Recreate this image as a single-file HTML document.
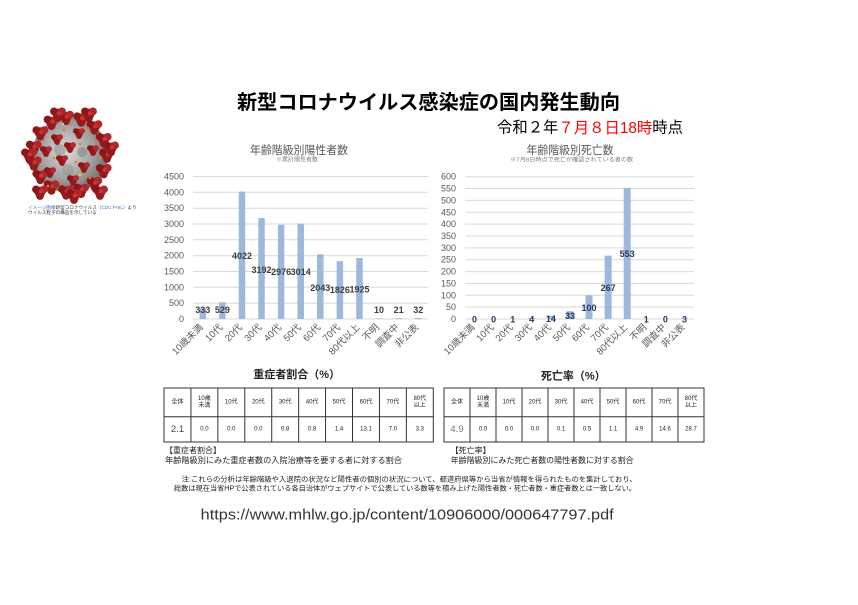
<!DOCTYPE html>
<html><head><meta charset="utf-8"><style>
html,body{margin:0;padding:0;background:#fff;}
body{width:858px;height:605px;overflow:hidden;}
svg{display:block;}
text{font-family:"Liberation Sans","Noto Sans CJK JP",sans-serif;}
</style></head><body>
<svg width="858" height="605" viewBox="0 0 858 605" xmlns="http://www.w3.org/2000/svg">
<defs>
<radialGradient id="vg" cx="0.45" cy="0.45" r="0.6">
<stop offset="0" stop-color="#dcdcdc"/><stop offset="0.6" stop-color="#a0a0a0"/><stop offset="1" stop-color="#666"/>
</radialGradient>
<g id="sp"><circle cx="0" cy="0" r="5.4" fill="#a11c20"/><circle cx="-4" cy="-2.6" r="3.9" fill="#8f1519"/><circle cx="4" cy="-2.6" r="3.9" fill="#b0272a"/><circle cx="0" cy="4" r="3.9" fill="#951a1e"/><circle cx="0.8" cy="-0.6" r="2" fill="#c73a33"/></g>
<g id="sp2"><circle cx="0" cy="0" r="4.2" fill="#a11c20"/><circle cx="-3.1" cy="-2" r="2.9" fill="#8f1519"/><circle cx="3.1" cy="-2" r="2.9" fill="#b32a2b"/><circle cx="0" cy="3.1" r="2.9" fill="#951a1e"/></g>
</defs>
<rect width="858" height="605" fill="#fff"/>

<!-- Virus -->
<g>
<circle cx="70" cy="155" r="38" fill="url(#vg)"/>
<circle cx="60" cy="150" r="6" fill="#8a8a8a" opacity="0.5"/>
<circle cx="82" cy="152" r="5" fill="#7a7a7a" opacity="0.5"/>
<circle cx="68" cy="170" r="6" fill="#8a8a8a" opacity="0.4"/>
<use href="#sp" x="107" y="155"/><use href="#sp" x="103.7" y="170.5"/><use href="#sp" x="94.4" y="183.2"/>
<use href="#sp" x="81.2" y="190.1"/><use href="#sp" x="66" y="191.8"/><use href="#sp" x="51.5" y="186.9"/>
<use href="#sp" x="40.3" y="176.3"/><use href="#sp" x="33.8" y="162.9"/><use href="#sp" x="33.8" y="147.1"/>
<use href="#sp" x="40.3" y="132.7"/><use href="#sp" x="51.5" y="122.1"/><use href="#sp" x="66" y="117.2"/>
<use href="#sp" x="81.2" y="118.9"/><use href="#sp" x="94.4" y="126.8"/><use href="#sp" x="103.7" y="139.5"/>
<use href="#sp" x="58" y="114"/><use href="#sp" x="89" y="114"/><use href="#sp" x="111" y="148"/><use href="#sp" x="29" y="155"/>
<use href="#sp" x="100" y="192"/><use href="#sp" x="40" y="192"/><use href="#sp" x="74" y="196"/>
<use href="#sp2" x="57" y="139"/><use href="#sp2" x="79" y="133"/><use href="#sp2" x="93" y="150"/>
<use href="#sp2" x="62" y="160"/><use href="#sp2" x="84" y="167"/><use href="#sp2" x="50" y="172"/>
<use href="#sp2" x="73" y="180"/><use href="#sp2" x="46" y="151"/><use href="#sp2" x="70" y="147"/>
<g fill="#f0782a">
<circle cx="64" cy="130" r="1.3"/><circle cx="88" cy="128" r="1.3"/><circle cx="100" cy="158" r="1.3"/>
<circle cx="54" cy="158" r="1.3"/><circle cx="76" cy="162" r="1.3"/><circle cx="60" cy="182" r="1.3"/>
<circle cx="90" cy="178" r="1.3"/><circle cx="44" cy="140" r="1.3"/><circle cx="70" cy="124" r="1.3"/>
<circle cx="48" cy="186" r="1.3"/><circle cx="96" cy="140" r="1.3"/><circle cx="80" cy="144" r="1.3"/>
</g>
<circle cx="63" cy="124" r="1.2" fill="#f5d020"/><circle cx="80" cy="175" r="1.2" fill="#f5d020"/>
</g>
<text x="28" y="209" font-size="4.6" fill="#333"><tspan fill="#3a6fd0">イメージ画像</tspan>新型コロナウイルス（<tspan fill="#3a6fd0">CDC PHIL</tspan>）より</text>
<text x="28" y="214" font-size="4.6" fill="#333">ウイルス粒子の構造を示している</text>

<!-- Main title -->
<text x="428.5" y="103" font-size="20" font-weight="bold" fill="#000" text-anchor="middle" dominant-baseline="central" textLength="383" lengthAdjust="spacingAndGlyphs">新型コロナウイルス感染症の国内発生動向</text>
<text x="497" y="128" font-size="15.5" fill="#000" dominant-baseline="central" textLength="186" lengthAdjust="spacingAndGlyphs">令和２年<tspan fill="#ff0000">７月８日18時</tspan>時点</text>

<!-- Left chart -->
<text x="299" y="151" font-size="11.5" fill="#595959" text-anchor="middle" dominant-baseline="central" textLength="98" lengthAdjust="spacingAndGlyphs">年齢階級別陽性者数</text>
<text x="297" y="160.7" font-size="6" fill="#7f7f7f" text-anchor="middle" dominant-baseline="central">※累計陽性者数</text>
<g stroke="#d9d9d9" stroke-width="1">
<line x1="193" y1="176.5" x2="428" y2="176.5"/><line x1="193" y1="192.3" x2="428" y2="192.3"/>
<line x1="193" y1="208.2" x2="428" y2="208.2"/><line x1="193" y1="224" x2="428" y2="224"/>
<line x1="193" y1="239.8" x2="428" y2="239.8"/><line x1="193" y1="255.7" x2="428" y2="255.7"/>
<line x1="193" y1="271.5" x2="428" y2="271.5"/><line x1="193" y1="287.3" x2="428" y2="287.3"/>
<line x1="193" y1="303.2" x2="428" y2="303.2"/><line x1="193" y1="319" x2="428" y2="319"/>
</g>
<g font-size="9" fill="#595959" text-anchor="end" dominant-baseline="central">
<text x="184" y="176.5">4500</text><text x="184" y="192.3">4000</text><text x="184" y="208.2">3500</text>
<text x="184" y="224">3000</text><text x="184" y="239.8">2500</text><text x="184" y="255.7">2000</text>
<text x="184" y="271.5">1500</text><text x="184" y="287.3">1000</text><text x="184" y="303.2">500</text>
<text x="184" y="319">0</text>
</g>
<g fill="#9db8db">
<rect x="199.54" y="308.46" width="6.5" height="10.54"/>
<rect x="219.13" y="302.25" width="6.5" height="16.75"/>
<rect x="238.71" y="191.64" width="6.5" height="127.36"/>
<rect x="258.29" y="217.92" width="6.5" height="101.08"/>
<rect x="277.87" y="224.76" width="6.5" height="94.24"/>
<rect x="297.46" y="223.56" width="6.5" height="95.44"/>
<rect x="317.04" y="254.31" width="6.5" height="64.69"/>
<rect x="336.62" y="261.18" width="6.5" height="57.82"/>
<rect x="356.21" y="258.04" width="6.5" height="60.96"/>
<rect x="375.79" y="318.4" width="6.5" height="0.6"/>
<rect x="395.37" y="318.2" width="6.5" height="0.8"/>
<rect x="414.96" y="318" width="6.5" height="1"/>
</g>
<g font-size="9" font-weight="bold" fill="#404040" text-anchor="middle" dominant-baseline="central">
<text x="202.8" y="310">333</text><text x="222.4" y="310">529</text><text x="242" y="256">4022</text>
<text x="261.5" y="270">3192</text><text x="281.1" y="272">2976</text><text x="300.7" y="272">3014</text>
<text x="320.3" y="288">2043</text><text x="339.9" y="290">1826</text><text x="359.5" y="289.5">1925</text>
<text x="379" y="310">10</text><text x="398.6" y="310">21</text><text x="418.2" y="310">32</text>
</g>
<g font-size="9.5" fill="#595959" text-anchor="end" dominant-baseline="central">
<text transform="translate(201.8,326) rotate(-45)">10歳未満</text>
<text transform="translate(221.4,326) rotate(-45)">10代</text>
<text transform="translate(241,326) rotate(-45)">20代</text>
<text transform="translate(260.5,326) rotate(-45)">30代</text>
<text transform="translate(280.1,326) rotate(-45)">40代</text>
<text transform="translate(299.7,326) rotate(-45)">50代</text>
<text transform="translate(319.3,326) rotate(-45)">60代</text>
<text transform="translate(338.9,326) rotate(-45)">70代</text>
<text transform="translate(358.5,326) rotate(-45)">80代以上</text>
<text transform="translate(378,326) rotate(-45)">不明</text>
<text transform="translate(397.6,326) rotate(-45)">調査中</text>
<text transform="translate(417.2,326) rotate(-45)">非公表</text>
</g>

<!-- Right chart -->
<text x="570" y="151" font-size="11.5" fill="#595959" text-anchor="middle" dominant-baseline="central" textLength="87" lengthAdjust="spacingAndGlyphs">年齢階級別死亡数</text>
<text x="571.7" y="160.7" font-size="5.8" fill="#7f7f7f" text-anchor="middle" dominant-baseline="central" textLength="123" lengthAdjust="spacingAndGlyphs">※7月8日時点で死亡が確認されている者の数</text>
<g stroke="#d9d9d9" stroke-width="1">
<line x1="465" y1="176.7" x2="694" y2="176.7"/><line x1="465" y1="188.56" x2="694" y2="188.56"/>
<line x1="465" y1="200.42" x2="694" y2="200.42"/><line x1="465" y1="212.28" x2="694" y2="212.28"/>
<line x1="465" y1="224.13" x2="694" y2="224.13"/><line x1="465" y1="235.99" x2="694" y2="235.99"/>
<line x1="465" y1="247.85" x2="694" y2="247.85"/><line x1="465" y1="259.71" x2="694" y2="259.71"/>
<line x1="465" y1="271.57" x2="694" y2="271.57"/><line x1="465" y1="283.43" x2="694" y2="283.43"/>
<line x1="465" y1="295.28" x2="694" y2="295.28"/><line x1="465" y1="307.14" x2="694" y2="307.14"/>
<line x1="465" y1="319" x2="694" y2="319"/>
</g>
<g font-size="9" fill="#595959" text-anchor="end" dominant-baseline="central">
<text x="456" y="176.7">600</text><text x="456" y="188.56">550</text><text x="456" y="200.42">500</text>
<text x="456" y="212.28">450</text><text x="456" y="224.13">400</text><text x="456" y="235.99">350</text>
<text x="456" y="247.85">300</text><text x="456" y="259.71">250</text><text x="456" y="271.57">200</text>
<text x="456" y="283.43">150</text><text x="456" y="295.28">100</text><text x="456" y="307.14">50</text>
<text x="456" y="319">0</text>
</g>
<g fill="#9db8db">
<rect x="509.21" y="318.76" width="7" height="0.24"/>
<rect x="528.29" y="318.05" width="7" height="0.95"/>
<rect x="547.38" y="315.68" width="7" height="3.32"/>
<rect x="566.46" y="311.17" width="7" height="7.83"/>
<rect x="585.54" y="295.28" width="7" height="23.72"/>
<rect x="604.63" y="255.68" width="7" height="63.32"/>
<rect x="623.71" y="187.85" width="7" height="131.15"/>
<rect x="642.79" y="318.76" width="7" height="0.24"/>
<rect x="680.96" y="318.29" width="7" height="0.71"/>
</g>
<g font-size="9" font-weight="bold" fill="#243a5e" text-anchor="middle" dominant-baseline="central">
<text x="474.5" y="319.3">0</text><text x="493.6" y="319.3">0</text><text x="512.7" y="319.5">1</text>
<text x="531.8" y="319.3">4</text><text x="550.9" y="319">14</text><text x="570" y="316">33</text>
<text x="589" y="308">100</text><text x="608.1" y="288">267</text><text x="627.2" y="254">553</text>
<text x="646.3" y="319.5">1</text><text x="665.4" y="319.3">0</text><text x="684.5" y="319.3">3</text>
</g>
<g font-size="9.5" fill="#595959" text-anchor="end" dominant-baseline="central">
<text transform="translate(473.5,326) rotate(-45)">10歳未満</text>
<text transform="translate(492.6,326) rotate(-45)">10代</text>
<text transform="translate(511.7,326) rotate(-45)">20代</text>
<text transform="translate(530.8,326) rotate(-45)">30代</text>
<text transform="translate(549.9,326) rotate(-45)">40代</text>
<text transform="translate(569,326) rotate(-45)">50代</text>
<text transform="translate(588,326) rotate(-45)">60代</text>
<text transform="translate(607.1,326) rotate(-45)">70代</text>
<text transform="translate(626.2,326) rotate(-45)">80代以上</text>
<text transform="translate(645.3,326) rotate(-45)">不明</text>
<text transform="translate(664.4,326) rotate(-45)">調査中</text>
<text transform="translate(683.5,326) rotate(-45)">非公表</text>
</g>

<!-- Left table -->
<text x="296.7" y="375" font-size="11" font-weight="bold" fill="#222" text-anchor="middle" dominant-baseline="central">重症者割合（%）</text>
<g stroke="#333" stroke-width="1" fill="none">
<rect x="164" y="388" width="269.3" height="54"/>
<line x1="164" y1="416.7" x2="433.3" y2="416.7"/>
<line x1="190.93" y1="388" x2="190.93" y2="442"/><line x1="217.86" y1="388" x2="217.86" y2="442"/>
<line x1="244.79" y1="388" x2="244.79" y2="442"/><line x1="271.72" y1="388" x2="271.72" y2="442"/>
<line x1="298.65" y1="388" x2="298.65" y2="442"/><line x1="325.58" y1="388" x2="325.58" y2="442"/>
<line x1="352.51" y1="388" x2="352.51" y2="442"/><line x1="379.44" y1="388" x2="379.44" y2="442"/>
<line x1="406.37" y1="388" x2="406.37" y2="442"/>
</g>
<g font-size="6" fill="#222" text-anchor="middle" dominant-baseline="central">
<text x="177.5" y="402.3">全体</text>
<text x="204.4" y="398.8">10歳</text><text x="204.4" y="406">未満</text>
<text x="231.3" y="402.3">10代</text><text x="258.3" y="402.3">20代</text><text x="285.2" y="402.3">30代</text>
<text x="312.1" y="402.3">40代</text><text x="339" y="402.3">50代</text><text x="366" y="402.3">60代</text>
<text x="392.9" y="402.3">70代</text>
<text x="419.8" y="398.8">80代</text><text x="419.8" y="406">以上</text>
<text x="177.5" y="429.3" font-size="9.5" fill="#444">2.1</text>
<text x="204.4" y="429.3">0.0</text><text x="231.3" y="429.3">0.0</text><text x="258.3" y="429.3">0.0</text>
<text x="285.2" y="429.3">0.8</text><text x="312.1" y="429.3">0.8</text><text x="339" y="429.3">1.4</text>
<text x="366" y="429.3">13.1</text><text x="392.9" y="429.3">7.0</text><text x="419.8" y="429.3">3.3</text>
</g>
<text x="165" y="450.7" font-size="8" fill="#222" dominant-baseline="central">【重症者割合】</text>
<text x="165" y="460.7" font-size="8" fill="#222" dominant-baseline="central" textLength="237" lengthAdjust="spacingAndGlyphs">年齢階級別にみた重症者数の入院治療等を要する者に対する割合</text>

<!-- Right table -->
<text x="573.3" y="376.7" font-size="11" font-weight="bold" fill="#222" text-anchor="middle" dominant-baseline="central">死亡率（%）</text>
<g stroke="#333" stroke-width="1" fill="none">
<rect x="444" y="388" width="260" height="54"/>
<line x1="444" y1="416.7" x2="704" y2="416.7"/>
<line x1="470" y1="388" x2="470" y2="442"/><line x1="496" y1="388" x2="496" y2="442"/>
<line x1="522" y1="388" x2="522" y2="442"/><line x1="548" y1="388" x2="548" y2="442"/>
<line x1="574" y1="388" x2="574" y2="442"/><line x1="600" y1="388" x2="600" y2="442"/>
<line x1="626" y1="388" x2="626" y2="442"/><line x1="652" y1="388" x2="652" y2="442"/>
<line x1="678" y1="388" x2="678" y2="442"/>
</g>
<g font-size="6" fill="#222" text-anchor="middle" dominant-baseline="central">
<text x="457" y="402.3">全体</text>
<text x="483" y="398.8">10歳</text><text x="483" y="406">未満</text>
<text x="509" y="402.3">10代</text><text x="535" y="402.3">20代</text><text x="561" y="402.3">30代</text>
<text x="587" y="402.3">40代</text><text x="613" y="402.3">50代</text><text x="639" y="402.3">60代</text>
<text x="665" y="402.3">70代</text>
<text x="691" y="398.8">80代</text><text x="691" y="406">以上</text>
<text x="457" y="429.3" font-size="9.5" fill="#777">4.9</text>
<text x="483" y="429.3">0.0</text><text x="509" y="429.3">0.0</text><text x="535" y="429.3">0.0</text>
<text x="561" y="429.3">0.1</text><text x="587" y="429.3">0.5</text><text x="613" y="429.3">1.1</text>
<text x="639" y="429.3">4.9</text><text x="665" y="429.3">14.6</text><text x="691" y="429.3">28.7</text>
</g>
<text x="450.7" y="450.7" font-size="8" fill="#222" dominant-baseline="central">【死亡率】</text>
<text x="450.7" y="460.7" font-size="8" fill="#222" dominant-baseline="central" textLength="183" lengthAdjust="spacingAndGlyphs">年齢階級別にみた死亡者数の陽性者数に対する割合</text>

<!-- Notes -->
<text x="181.7" y="480" font-size="7" fill="#222" dominant-baseline="central" textLength="455" lengthAdjust="spacingAndGlyphs">注:これらの分析は年齢階級や入退院の状況など陽性者の個別の状況について、都道府県等から当省が情報を得られたものを集計しており、</text>
<text x="174" y="489" font-size="7" fill="#222" dominant-baseline="central" textLength="462" lengthAdjust="spacingAndGlyphs">総数は現在当省HPで公表されている各自治体がウェブサイトで公表している数等を積み上げた陽性者数・死亡者数・重症者数とは一致しない。</text>

<!-- URL -->
<text x="200.7" y="515" font-size="15" fill="#333" dominant-baseline="central" textLength="413" lengthAdjust="spacingAndGlyphs">https://www.mhlw.go.jp/content/10906000/000647797.pdf</text>
</svg>
</body></html>
